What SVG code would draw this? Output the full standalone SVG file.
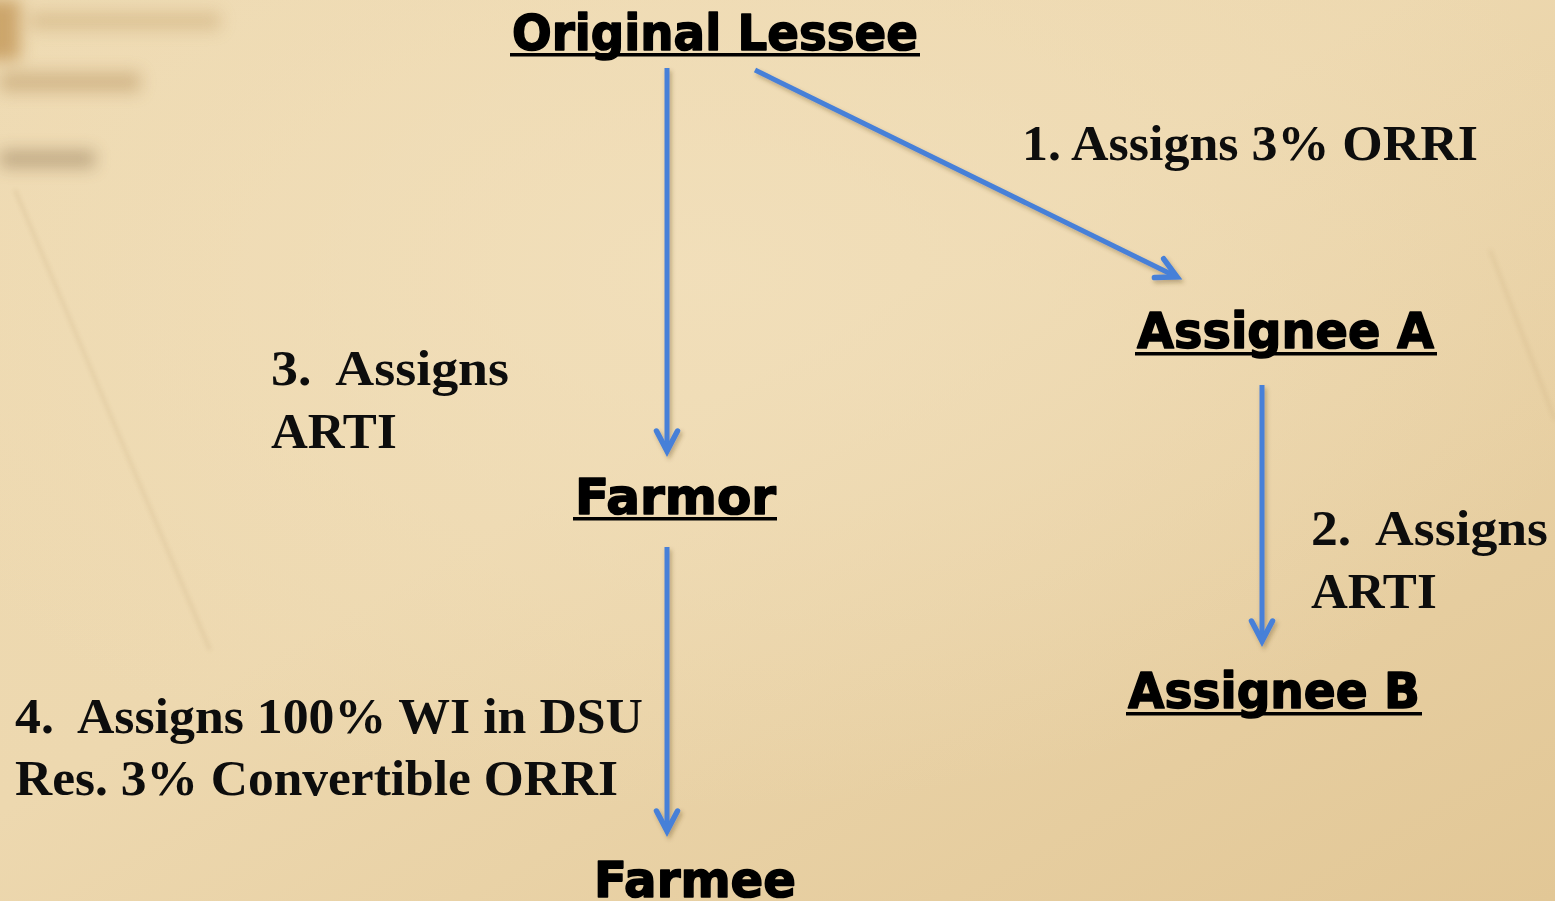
<svg xmlns="http://www.w3.org/2000/svg" width="1555" height="901" viewBox="0 0 1555 901">
  <defs>
    <linearGradient id="bg" x1="0" y1="0" x2="1" y2="1">
      <stop offset="0" stop-color="#EEDAB2"/>
      <stop offset="0.45" stop-color="#EDD8AF"/>
      <stop offset="1" stop-color="#E2C796"/>
    </linearGradient>
    <radialGradient id="glow" cx="0.45" cy="0.3" r="0.6">
      <stop offset="0" stop-color="#F2E0BC" stop-opacity="0.8"/>
      <stop offset="1" stop-color="#F2E0BC" stop-opacity="0"/>
    </radialGradient>
    <filter id="blur8" x="-20%" y="-50%" width="140%" height="200%">
      <feGaussianBlur stdDeviation="8"/>
    </filter>
    <filter id="blur2" x="-10%" y="-10%" width="120%" height="120%">
      <feGaussianBlur stdDeviation="2"/>
    </filter>
    <filter id="shadow" x="-20%" y="-20%" width="140%" height="140%">
      <feDropShadow dx="2" dy="3" stdDeviation="2" flood-color="#5a4020" flood-opacity="0.35"/>
    </filter>
    <marker id="chev" markerUnits="userSpaceOnUse" viewBox="-25 -15 30 30" refX="0" refY="0" markerWidth="30" markerHeight="30" orient="auto" overflow="visible">
      <path d="M -20 -10.5 L 0 0 L -20 10.5" fill="none" stroke="#4680D8" stroke-width="5.5" stroke-linecap="round" stroke-linejoin="miter"/>
    </marker>
    <style>
      .node { font-family: "DejaVu Sans", "Liberation Sans", sans-serif; font-weight: bold; font-size: 50px; fill: #000; stroke: #000; stroke-width: 1.6px; stroke-linejoin: round; }
      .label { font-family: "Liberation Serif", "DejaVu Serif", serif; font-weight: bold; font-size: 51px; fill: #0d0d0d; }
      .ul { fill: #000; }
      .conn { stroke: #4680D8; stroke-width: 5; fill: none; marker-end: url(#chev); }
    </style>
  </defs>

  <!-- background -->
  <rect x="0" y="0" width="1555" height="901" fill="url(#bg)"/>
  <rect x="0" y="0" width="1555" height="901" fill="url(#glow)"/>
  <g opacity="0.55" filter="url(#blur8)">
    <rect x="-20" y="0" width="40" height="60" fill="#B07A30"/>
    <rect x="30" y="12" width="190" height="18" fill="#B89258" opacity="0.6"/>
    <rect x="0" y="72" width="140" height="20" fill="#A88048" opacity="0.7"/>
    <rect x="0" y="150" width="95" height="18" fill="#7a6040" opacity="0.7"/>
  </g>
  <g fill="none" stroke="#B89A6A" stroke-width="2" opacity="0.3" filter="url(#blur2)">
    <path d="M 15 190 L 210 650"/>
    <path d="M 1490 250 L 1555 420"/>
  </g>

  <!-- connectors -->
  <g id="connectors" filter="url(#shadow)">
    <line class="conn" x1="667" y1="68" x2="667" y2="451"/>
    <line class="conn" x1="755" y1="70" x2="1177" y2="277"/>
    <line class="conn" x1="667" y1="547" x2="667" y2="831"/>
    <line class="conn" x1="1262" y1="385" x2="1262" y2="641"/>
  </g>

  <!-- nodes -->
  <g id="original-lessee">
    <text class="node" x="512" y="50" textLength="406" lengthAdjust="spacingAndGlyphs">Original Lessee</text>
    <rect class="ul" x="510" y="53" width="410" height="3.5"/>
  </g>
  <g id="assignee-a">
    <text class="node" x="1137" y="348" textLength="297" lengthAdjust="spacingAndGlyphs">Assignee A</text>
    <rect class="ul" x="1135" y="352" width="302" height="3.5"/>
  </g>
  <g id="farmor">
    <text class="node" x="575" y="514" textLength="201" lengthAdjust="spacingAndGlyphs">Farmor</text>
    <rect class="ul" x="573" y="517" width="204" height="3.5"/>
  </g>
  <g id="assignee-b">
    <text class="node" x="1128" y="708" textLength="292" lengthAdjust="spacingAndGlyphs">Assignee B</text>
    <rect class="ul" x="1126" y="712" width="296" height="3.5"/>
  </g>
  <g id="farmee">
    <text class="node" x="594" y="897" textLength="202" lengthAdjust="spacingAndGlyphs">Farmee</text>
  </g>

  <!-- labels -->
  <g id="labels">
    <text class="label" x="1022" y="160" textLength="456" lengthAdjust="spacingAndGlyphs">1. Assigns 3% ORRI</text>
    <text class="label" x="271" y="385" xml:space="preserve" textLength="238" lengthAdjust="spacingAndGlyphs">3.  Assigns</text>
    <text class="label" x="271" y="448">ARTI</text>
    <text class="label" x="1311" y="545" xml:space="preserve" textLength="237" lengthAdjust="spacingAndGlyphs">2.  Assigns</text>
    <text class="label" x="1311" y="608">ARTI</text>
    <text class="label" x="15" y="733" xml:space="preserve" textLength="628" lengthAdjust="spacingAndGlyphs">4.  Assigns 100% WI in DSU</text>
    <text class="label" x="15" y="795" textLength="603" lengthAdjust="spacingAndGlyphs">Res. 3% Convertible ORRI</text>
  </g>
</svg>
